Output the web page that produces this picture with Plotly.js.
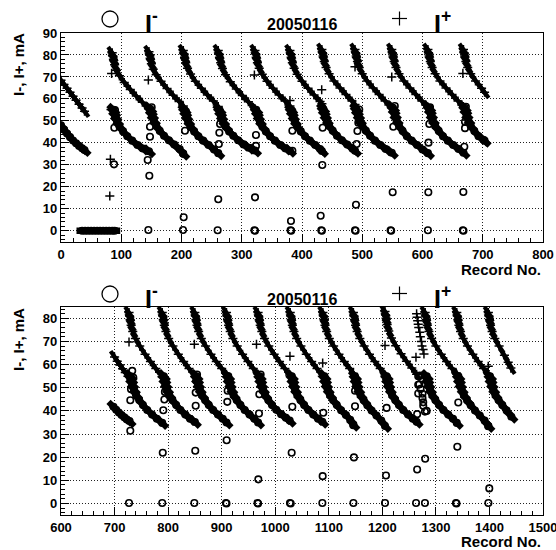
<!DOCTYPE html>
<html>
<head>
<meta charset="utf-8">
<script src="https://cdn.plot.ly/plotly-3.0.1.min.js"></script>
<style>html,body{margin:0;padding:0;background:#fff;}#chart{width:556px;height:550px;}</style>
</head>
<body>
<div id="chart"></div>
<script>
// ---------------- TOP PANEL DATA (records 0-800) ----------------
var topPlusX = [0,5,10,15,20,25,30,35,39,null,
  85,86,87,89,92,97,105,115,125,135,146,null,
  146,147,148,150,153,158,166,176,186,196,203,null,
  203,204,205,207,210,215,223,233,243,253,261,null,
  261,262,263,265,268,273,281,291,301,311,322,null,
  322,323,324,326,329,334,342,352,362,372,380,null,
  380,381,382,384,387,392,400,410,420,430,433,null,
  433,434,435,437,440,445,453,463,473,483,488,null,
  488,489,490,492,495,500,508,518,528,538,549,null,
  549,550,551,553,556,561,569,579,589,599,609,null,
  609,610,611,613,616,621,629,639,649,659,668,null,
  668,669,670,672,675,680,688,698,703];
var topPlusY = [68.5,66.6,64.8,63,61.2,59.4,57.6,55.9,54.4,null,
  81,79.5,78,75.5,73,70.5,67.5,64.3,61.3,58.5,55.5,null,
  81.5,80,78.5,76,73.5,71,68,64.7,61.7,58.8,56.8,null,
  82,80.5,79,76.5,74,71.3,68,64.8,61.8,59,56.5,null,
  82,80.5,79,76.5,73.8,71,67.8,64.5,61.5,58.7,55.5,null,
  82,80.5,79,76.5,74,71.2,68,64.8,61.8,59,56.8,null,
  82,80.5,79,76.5,74,71.2,68,64.8,61.8,58.8,57.8,null,
  82.5,81,79.5,77,74.3,71.5,68.2,65,62,59,57.5,null,
  82.5,81,79.5,77,74.3,71.5,68.2,65,62,59,56,null,
  82.5,81,79.5,77,74.3,71.5,68.2,65,62,59,56.3,null,
  82.5,81,79.5,77,74.3,71.5,68.2,65,62,59,56.5,null,
  82.5,81,79.5,77,74.3,71.5,68.2,64.8,63];
var topMinusX = [0,5,10,15,20,25,30,35,39,null,
  87,88,90,93,97,103,110,118,127,136,146,null,
  148,149,151,154,158,164,171,179,188,197,203,null,
  205,206,208,211,215,221,228,236,245,254,261,null,
  263,264,266,269,273,279,286,294,303,312,322,null,
  324,325,327,330,334,340,347,355,364,373,380,null,
  382,383,385,388,392,398,405,413,422,430,433,null,
  435,436,438,441,445,451,458,466,475,484,488,null,
  490,491,493,496,500,506,513,521,530,539,549,null,
  551,552,554,557,561,567,574,582,591,600,609,null,
  611,612,614,617,621,627,634,642,651,660,668,null,
  670,671,673,676,680,686,693,701,703];
var topMinusY = [48,46,44.2,42.6,41.1,39.8,38.6,37.5,36.7,null,
  55,53.8,52,49.8,47.5,45.2,43,41,39,37.4,36.2,null,
  55.5,54.3,52.5,50.2,47.8,45.4,43.2,41.2,39.2,37.2,35,null,
  55,53.8,52,49.8,47.5,45.2,43,41,39,37,35.3,null,
  55,53.8,52,49.8,47.5,45.2,43.2,41.2,39.3,37.8,36.5,null,
  55,53.8,52,49.8,47.5,45.2,43,41,39,37.4,36.4,null,
  55,53.8,52,49.8,47.5,45.2,43,41,39,37.2,36.3,null,
  55.5,54.3,52.5,50.2,47.8,45.5,43.2,41.2,39.2,37.3,36.4,null,
  55.5,54.3,52.5,50.2,47.8,45.5,43.2,41,39,37.2,35.5,null,
  56,54.7,52.8,50.3,47.8,45.4,43,41,39,37,35.3,null,
  56,54.7,52.8,50.3,47.8,45.4,43,41,39,37.2,35.5,null,
  56,54.7,52.8,50.3,47.8,45.4,43,41.4,41];
// run of I- = 0 records (top panel)
var topZeroX = [35,40,45,50,55,60,65,70,75,80,85,89];
var topZeroY = [0,0,0,0,0,0,0,0,0,0,0,0];
var topPlusPtX = [84,83,82,81,145,321,380,432.7,488,549,667];
var topPlusPtY = [71.6,55.2,32.5,15.8,68.6,70.9,59.3,64.2,74.6,70,71.6];
var topMinusPtX = [89.6,88.5,88,
  150.5,147.7,147.7,143.9,146.6,145,
  207.5,205.8,202.5,203.6,202.5,
  264,264,262.8,262,261,260,
  325,323.6,323.6,322,321,322,
  384,384,384,381.7,381,382,
  436.5,434.3,433.7,431,432,433,
  495,493.5,492,490.7,489.6,488,489,
  554,551.5,550.5,547,548,
  612.5,611.3,610,609.7,609,
  672,670.5,670.5,669.4,667.8,667,668];
var topMinusPtY = [54.9,46.9,30.2,
  56.2,47.3,42.8,32.2,25,0.3,
  54.2,45.5,35.2,6.1,0.3,
  54.2,48.6,44.6,39.5,14.3,0.2,
  53.4,43.6,38.6,15.2,0.2,0,
  54.5,45.5,36.4,4.4,0.2,0,
  54.5,46.9,29.9,6.8,0.2,0,
  55.2,49.2,45.4,39.5,11.8,0.2,0,
  56.8,47.3,17.5,0.2,0,
  56.2,48.6,40.1,17.5,0.2,
  56.4,49.6,46.7,38.2,17.6,0.2,0];

// ---------------- BOTTOM PANEL DATA (records 600-1500) ----------------
var botPlusX = [700,705,710,715,720,725,730,null,
  727,728,729,731,734,739,747,757,767,777,789,null,
  789,790,791,793,796,801,809,819,829,839,850,null,
  850,851,852,854,857,862,870,880,890,900,909,null,
  909,910,911,913,916,921,929,939,949,959,968,null,
  968,969,970,972,975,980,988,998,1008,1018,1027,null,
  1028,1029,1030,1032,1035,1040,1048,1058,1068,1078,1088,null,
  1089,1090,1091,1093,1096,1101,1109,1119,1129,1139,1146,null,
  1146,1147,1148,1150,1153,1158,1166,1176,1186,1196,1205,null,
  1205,1206,1207,1209,1212,1217,1225,1235,1245,1255,1264,null,
  1280,1281,1282,1284,1287,1292,1300,1310,1320,1330,1339,null,
  1339,1340,1341,1343,1346,1351,1359,1369,1379,1389,1398,null,
  1398,1399,1400,1402,1405,1410,1418,1428,1435,1440];
var botPlusY = [63.3,61.5,59.8,58.2,56.6,55,53.8,null,
  82.5,81,79.5,77,74.3,71.3,68,64.5,61.3,58.3,54.8,null,
  82.5,81,79.5,77,74.3,71.3,68,64.5,61.3,58.3,55,null,
  82.5,81,79.5,77,74.3,71.3,68,64.5,61.3,58.3,55.8,null,
  82.5,81,79.5,77,74.3,71.3,68,64.5,61.3,58.3,55.8,null,
  82.5,81,79.5,77,74.3,71.3,68,64.5,61.3,58.3,55.5,null,
  82.5,81,79.5,77,74.3,71.3,68,64.5,61.3,58.3,55,null,
  82.5,81,79.5,77,74.3,71.3,68,64.5,61.3,58.3,56.2,null,
  82.5,81,79.5,77,74.3,71.3,68,64.5,61.3,58.3,55.5,null,
  83,81.5,80,77.3,74.5,71.5,68.2,64.7,61.5,58.5,55.8,null,
  82.5,81,79.5,77,74.3,71.3,68,64.5,61.3,58.3,55.8,null,
  82.5,81,79.5,77,74.3,71.3,68,64.5,61.3,58.3,55.8,null,
  82.5,81,79.5,77,74.3,71.3,68,64,61,58.5];
var botMinusX = [698,703,708,713,718,723,728,null,
  730,731,733,736,740,746,753,761,770,779,789,null,
  792,793,795,798,802,808,815,823,832,841,850,null,
  853,854,856,859,863,869,876,884,893,902,909,null,
  912,913,915,918,922,928,935,943,952,961,968,null,
  971,972,974,977,981,987,994,1002,1011,1020,1027,null,
  1031,1032,1034,1037,1041,1047,1054,1062,1071,1080,1088,null,
  1092,1093,1095,1098,1102,1108,1115,1123,1132,1140,1146,null,
  1149,1150,1152,1155,1159,1165,1172,1180,1189,1198,1205,null,
  1208,1209,1211,1214,1218,1224,1231,1239,1248,1257,1264,null,
  1283,1284,1286,1289,1293,1299,1306,1314,1323,1332,1339,null,
  1342,1343,1345,1348,1352,1358,1365,1373,1382,1391,1398,null,
  1401,1402,1404,1407,1411,1417,1424,1432,1441];
var botMinusY = [41.8,40.5,39.3,38.2,37.2,36.3,35.6,null,
  55,53.5,51.5,49.3,47,44.7,42.5,40.4,38.4,36.6,34.8,null,
  55,53.5,51.5,49.3,47,44.7,42.5,40.4,38.4,36.6,35.2,null,
  55,53.5,51.5,49.3,47,44.7,42.5,40.4,38.4,36.6,35,null,
  55,53.5,51.5,49.3,47,44.7,42.5,40.4,38.4,36.6,35,null,
  55,53.5,51.5,49.3,47,44.7,42.5,40.5,38.6,37,35.8,null,
  55,53.5,51.5,49.3,47,44.7,42.5,40.4,38.4,36.6,35.3,null,
  55,53.5,51.5,49.3,47,44.7,42.5,40.3,38.2,36.2,34,null,
  55,53.5,51.5,49.3,47,44.7,42.4,40.2,38,35.8,33.5,null,
  55,53.5,51.5,49.3,47,44.7,42.5,40.4,38.4,36.6,35.3,null,
  55,53.5,51.5,49.3,47,44.7,42.5,40.4,38.4,36.6,34.8,null,
  55,53.5,51.5,49.3,47,44.7,42.4,40.2,38,35.8,33.5,null,
  55,53.5,51.5,49.3,47,44.7,42.5,40.2,37.5];
var botPlusPtX = [727,849,965,1027.5,1088.6,1205,1262.8,1338,1397.8,
  1264,1265,1266,1267,1268,1270,1271,1273,1274,1276,1277.7];
var botPlusPtY = [69.8,68.8,68.8,63.6,60.7,68.3,63.2,56.4,59.3,
  82,80.5,79,77.5,76,74,72,70,68,66.5,64.6];
var botMinusPtX = [733,735,730.7,729.4,729.4,727,
  795.4,794,793,791,790,789,
  854,852.6,851.5,851.5,850.7,849,
  912.4,911.2,910.5,909.3,908,909,
  972.8,970.3,969.7,968.4,967,968,
  1033.7,1031.9,1030.7,1027.5,1029,
  1093,1089.7,1088.6,1088,
  1150.8,1149,1149,1145.8,1147,1146,
  1209,1208,1206.8,1205,
  1267,1270,1269,1267,1267,1271.5,1275,1275,1276.4,1276.4,1283,1282.8,1265,1279.6,1265,1280,1263,1279.6,
  1343.7,1341.8,1340,1337.5,1338.5,
  1404,1397.8,1399.7,1398];
var botMinusPtY = [57.3,54.4,49.4,44.6,31.4,0.2,
  52.5,48.2,44.9,40.3,21.9,0.2,
  55.7,53,47.9,42.2,22.8,0.2,
  55,48.7,43.9,27.3,0.2,0,
  55.7,47.2,38.9,10.4,0.2,0,
  53,41.8,21.9,0.2,0,
  53,39.2,11.8,0.2,
  52.2,48.7,42,33.8,19.9,0.2,
  54.4,41.3,12.1,0.2,
  55,55.3,51.5,51.3,47.5,49.5,47.4,45.5,43.7,42.2,53.5,40,38.6,39.7,14.7,19.3,0.2,0.2,
  53.5,43.6,24.5,0.2,0,
  52.5,33.4,6.5,0.2];

// ---------------- TEXT ----------------
var chartTitle = '20050116';
var yTitle = 'I-, I+, mA';
var xTitle = 'Record No.';

// ---------------- TRACES ----------------
function circleMk(){ return {symbol:'circle-open', size:6.5, color:'black', line:{width:1.6, color:'black'}}; }
function plusMk(){ return {symbol:'cross-thin-open', size:6.5, color:'black', line:{width:1.5, color:'black'}}; }
// short thick strokes oriented along the band so neighbouring readings merge into a solid band
function strokeMk(len, w, ang){ return {symbol:'line-ew', size:len, angle:ang, color:'black', line:{width:w, color:'black'}}; }

function lineTr(x, y, xa, ya, w) {
  return {x:x, y:y, xaxis:xa, yaxis:ya, type:'scatter', mode:'lines',
    connectgaps:false, line:{color:'black', width:w}, showlegend:false};
}
function ptsTr(x, y, xa, ya, mk) {
  return {x:x, y:y, xaxis:xa, yaxis:ya, type:'scatter', mode:'markers', marker:mk, showlegend:false};
}

var data = [
  // top panel
  lineTr(topMinusX, topMinusY, 'x', 'y', 6),
  lineTr(topPlusX, topPlusY, 'x', 'y', 4),
  lineTr(topZeroX, topZeroY, 'x', 'y', 6),
  ptsTr(topMinusX, topMinusY, 'x', 'y', strokeMk(10, 6, 44)),
  ptsTr(topPlusX, topPlusY, 'x', 'y', strokeMk(10, 4.2, 54)),
  ptsTr(topZeroX, topZeroY, 'x', 'y', strokeMk(8, 6.5, 0)),
  ptsTr(topMinusX, topMinusY, 'x', 'y', circleMk()),
  ptsTr(topPlusX, topPlusY, 'x', 'y', plusMk()),
  ptsTr(topZeroX, topZeroY, 'x', 'y', circleMk()),
  ptsTr(topMinusPtX, topMinusPtY, 'x', 'y', circleMk()),
  ptsTr(topPlusPtX, topPlusPtY, 'x', 'y', plusMk()),
  // bottom panel
  lineTr(botMinusX, botMinusY, 'x2', 'y2', 6),
  lineTr(botPlusX, botPlusY, 'x2', 'y2', 4),
  ptsTr(botMinusX, botMinusY, 'x2', 'y2', strokeMk(10, 6, 45)),
  ptsTr(botPlusX, botPlusY, 'x2', 'y2', strokeMk(10, 4.2, 56)),
  ptsTr(botMinusX, botMinusY, 'x2', 'y2', circleMk()),
  ptsTr(botPlusX, botPlusY, 'x2', 'y2', plusMk()),
  ptsTr(botMinusPtX, botMinusPtY, 'x2', 'y2', circleMk()),
  ptsTr(botPlusPtX, botPlusPtY, 'x2', 'y2', plusMk())
];

var FAM = 'Liberation Sans, Arial, sans-serif';
function f(sz){ return {family:FAM, color:'black', size:sz, weight:'bold'}; }
var tickFont = f(13);
function xAx(r, anchor) {
  return {range:r, anchor:anchor, domain:[0,1], tick0:0, dtick:100, ticks:'inside', ticklen:8, tickwidth:1, tickcolor:'black',
    minor:{dtick:20, ticks:'inside', ticklen:4, tickwidth:1, tickcolor:'black', showgrid:false},
    showgrid:true, gridcolor:'#222', gridwidth:1, griddash:'1px,2px', zeroline:false, ticklabeloverflow:'allow',
    showline:true, mirror:true, linecolor:'black', linewidth:1.2, tickfont:tickFont, fixedrange:true};
}
function yAx(r, dom, anchor) {
  return {range:r, domain:dom, anchor:anchor, tick0:0, dtick:10, ticks:'inside', ticklen:8, tickwidth:1, tickcolor:'black',
    minor:{dtick:2, ticks:'inside', ticklen:4, tickwidth:1, tickcolor:'black', showgrid:false},
    showgrid:true, gridcolor:'#222', gridwidth:1, griddash:'1px,2px', zeroline:false,
    showline:true, mirror:true, linecolor:'black', linewidth:1.2, tickfont:tickFont, fixedrange:true};
}

var ann = [];
var shapes = [];
var shiftPx = [0, 275];
var H = 482;
[0,1].forEach(function(i){
  var off = shiftPx[i]/H;
  ann.push({xref:'paper', yref:'paper', x:0.5, y:(515-24)/H - off, xanchor:'center', yanchor:'middle',
    text:'<b>'+chartTitle+'</b>', showarrow:false, font:f(16)});
  ann.push({xref:'paper', yref:'paper', x:(143-61)/482, y:(515-22)/H - off, xanchor:'left', yanchor:'middle',
    text:'<b>I<sup>-</sup></b>', showarrow:false, font:f(25)});
  ann.push({xref:'paper', yref:'paper', x:(432-61)/482, y:(515-22)/H - off, xanchor:'left', yanchor:'middle',
    text:'<b>I<sup>+</sup></b>', showarrow:false, font:f(25)});
  ann.push({xref:'paper', yref:'paper', x:(18-61)/482, y:(515-65)/H - off, xanchor:'center', yanchor:'middle',
    textangle:-90, text:'<b>'+yTitle+'</b>', showarrow:false, font:f(15)});
  shapes.push({type:'circle', xref:'paper', yref:'paper', x0:(102-61)/482, x1:(118-61)/482,
    y0:(515-27)/H - off, y1:(515-11)/H - off, line:{color:'black', width:1.3}});
  shapes.push({type:'line', xref:'paper', yref:'paper', x0:(392-61)/482, x1:(407-61)/482,
    y0:(515-18.5)/H - off, y1:(515-18.5)/H - off, line:{color:'black', width:1.2}});
  shapes.push({type:'line', xref:'paper', yref:'paper', x0:(399.5-61)/482, x1:(399.5-61)/482,
    y0:(515-11.5)/H - off, y1:(515-25.5)/H - off, line:{color:'black', width:1.2}});
});
ann.push({xref:'paper', yref:'paper', x:1, y:(515-269)/H, xanchor:'right', yanchor:'middle',
  text:'<b>'+xTitle+'</b>', showarrow:false, font:f(15)});
ann.push({xref:'paper', yref:'paper', x:1, y:(515-541)/H, xanchor:'right', yanchor:'middle',
  text:'<b>'+xTitle+'</b>', showarrow:false, font:f(15)});

var layout = {
  width:556, height:550,
  margin:{l:61, r:13, t:33, b:35, pad:0},
  paper_bgcolor:'white', plot_bgcolor:'white',
  showlegend:false,
  xaxis: xAx([0,800], 'y'),
  yaxis: yAx([-5,90], [0.567,1], 'x'),
  xaxis2: xAx([600,1500], 'y2'),
  yaxis2: yAx([-5,85], [0,0.432], 'x2'),
  annotations: ann,
  shapes: shapes
};
Plotly.newPlot('chart', data, layout, {staticPlot:true, displayModeBar:false});
</script>
</body>
</html>
